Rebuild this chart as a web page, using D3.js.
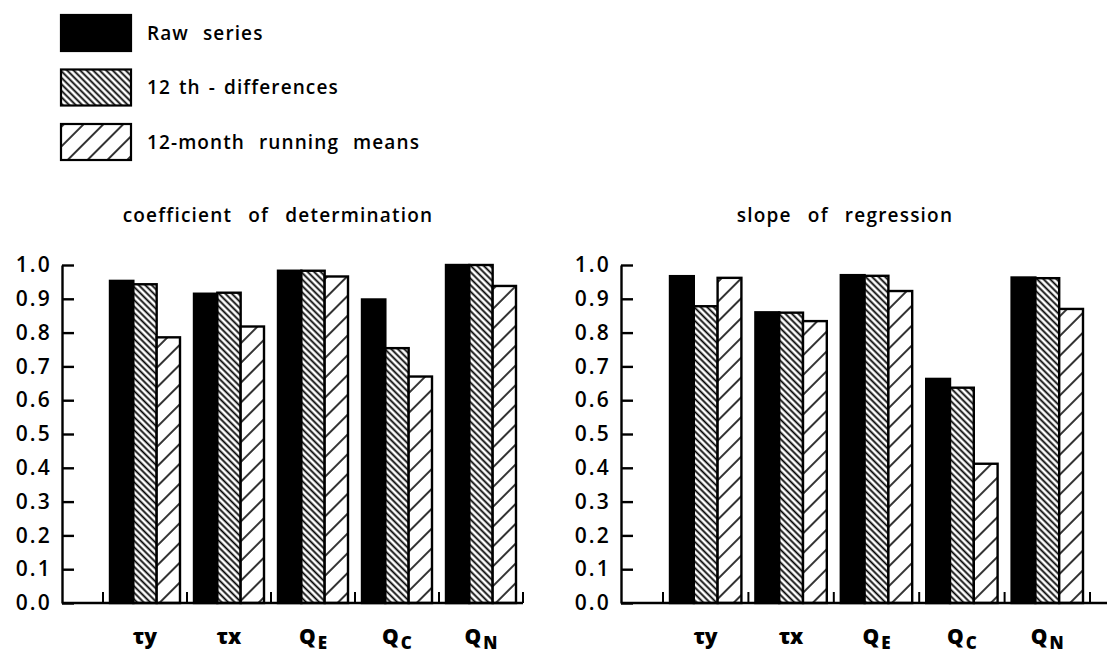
<!doctype html>
<html lang="en">
<head>
  <meta charset="utf-8">
  <title>Regression bars</title>
  <script src="https://cdn.jsdelivr.net/npm/d3@7/dist/d3.min.js"></script>
  <style>
    body{margin:0;background:#fff}
    text{font-family:"Open Sans","DejaVu Sans",sans-serif;font-weight:600;fill:#000}
  </style>
</head>
<body>
  <div id="container"></div>
<script>
// data
var categories = ["τy", "τx", "QE", "QC", "QN"];
var seriesNames = ["Raw series", "12 th - differences", "12-month running means"];
var detRaw  = [0.953, 0.915, 0.983, 0.898, 1.0];
var detDiff = [0.943, 0.918, 0.983, 0.754, 1.0];
var detMean = [0.786, 0.818, 0.966, 0.670, 0.938];
var slopeRaw  = [0.967, 0.860, 0.970, 0.663, 0.963];
var slopeDiff = [0.878, 0.859, 0.968, 0.637, 0.961];
var slopeMean = [0.962, 0.834, 0.923, 0.412, 0.870];
var yTicks = [0, 0.1, 0.2, 0.3, 0.4, 0.5, 0.6, 0.7, 0.8, 0.9, 1.0];

var svg = d3.select("#container").append("svg").attr("width", 1108).attr("height", 656),
    defs = svg.append("defs");

// hatch patterns
function hatch(id, gap, angle, sw) {
  var p = defs.append("pattern").attr("id", id).attr("patternUnits", "userSpaceOnUse")
    .attr("width", gap).attr("height", 10).attr("patternTransform", "rotate(" + angle + ")");
  p.append("rect").attr("width", gap).attr("height", 10).attr("fill", "#fff");
  p.append("line").attr("x1", gap / 2).attr("x2", gap / 2).attr("y1", 0).attr("y2", 10)
    .attr("stroke", "#000").attr("stroke-width", sw);
}
hatch("diff", 4.6, -45, 1.8);
hatch("mean", 14, 45, 1.6);
var fills = ["#000", "url(#diff)", "url(#mean)"];

// legend
var leg = svg.append("g").attr("class", "legend");
seriesNames.forEach(function (s, i) {
  var yy = 15 + i * 54.5;
  leg.append("rect").attr("x", 61).attr("y", yy).attr("width", 70).attr("height", 36)
    .attr("fill", fills[i]).attr("stroke", "#000").attr("stroke-width", 2.2);
  leg.append("text").attr("x", 147).attr("y", yy + 18).attr("dy", "0.35em")
    .style("font-size", "19px").style("letter-spacing", "1.1px").style("word-spacing", i == 1 ? "2px" : "8px")
    .text(s);
});

var y = d3.scaleLinear().domain([0, 1]).range([603, 265]);

var panels = [
  {title: "coefficient of determination", axisX: 62, start: 103, end: 523, baseEnd: 523, titleX: 278, data: [detRaw, detDiff, detMean]},
  {title: "slope of regression", axisX: 621, start: 663, end: 1090, baseEnd: 1107, titleX: 845, data: [slopeRaw, slopeDiff, slopeMean]}
];

panels.forEach(function (p) {
  var g = svg.append("g");
  var x = d3.scaleBand().domain(categories).range([p.start, p.end]);
  var xs = d3.scaleBand().domain(d3.range(3)).range([7, x.bandwidth() - 7]);

  g.append("text").attr("x", p.titleX).attr("y", 222).attr("text-anchor", "middle")
    .style("font-size", "19px").style("letter-spacing", "1.2px").style("word-spacing", "10px")
    .text(p.title);

  // bars
  p.data.forEach(function (vals, si) {
    g.selectAll(null).data(vals).enter().append("rect")
      .attr("x", function (d, i) { return x(categories[i]) + xs(si); })
      .attr("y", function (d) { return y(d); })
      .attr("width", xs.bandwidth())
      .attr("height", function (d) { return y(0) - y(d); })
      .attr("fill", fills[si]).attr("stroke", "#000").attr("stroke-width", 2.4);
  });

  // y axis, ticks pointing inward
  var ya = g.append("g").attr("transform", "translate(" + p.axisX + ",0)")
    .call(d3.axisLeft(y).tickValues(yTicks).tickSizeInner(-12).tickSizeOuter(0).tickPadding(10)
      .tickFormat(d3.format(".1f")));
  ya.selectAll("path,line").attr("stroke", "#000").attr("stroke-width", 2.4);
  ya.selectAll("text").style("font-size", "21px").style("letter-spacing", "2.2px")
    .style("font-family", "Open Sans, DejaVu Sans, sans-serif").style("font-weight", "600").attr("fill", "#000");

  // baseline with group separators
  g.append("line").attr("x1", p.axisX).attr("x2", p.baseEnd).attr("y1", y(0)).attr("y2", y(0))
    .attr("stroke", "#000").attr("stroke-width", 2.6);
  var seps = categories.map(function (c) { return x(c); }).concat([p.end]);
  g.selectAll(null).data(seps).enter().append("line")
    .attr("x1", function (d) { return d; }).attr("x2", function (d) { return d; })
    .attr("y1", y(0)).attr("y2", y(0) - 11)
    .attr("stroke", "#000").attr("stroke-width", 2);

  // category labels
  var lab = g.selectAll(null).data(categories).enter().append("text")
    .attr("x", function (c) { return x(c) + x.bandwidth() / 2; })
    .attr("y", 644).attr("text-anchor", "middle")
    .style("font-size", "21px").style("font-weight", "800");
  lab.each(function (c) {
    var t = d3.select(this);
    if (c[0] === "Q") {
      t.append("tspan").text("Q");
      t.append("tspan").attr("dy", 5).attr("dx", 2).style("font-size", "17px").text(c.slice(1));
    } else {
      t.text(c);
    }
  });
});
</script>
</body>
</html>
